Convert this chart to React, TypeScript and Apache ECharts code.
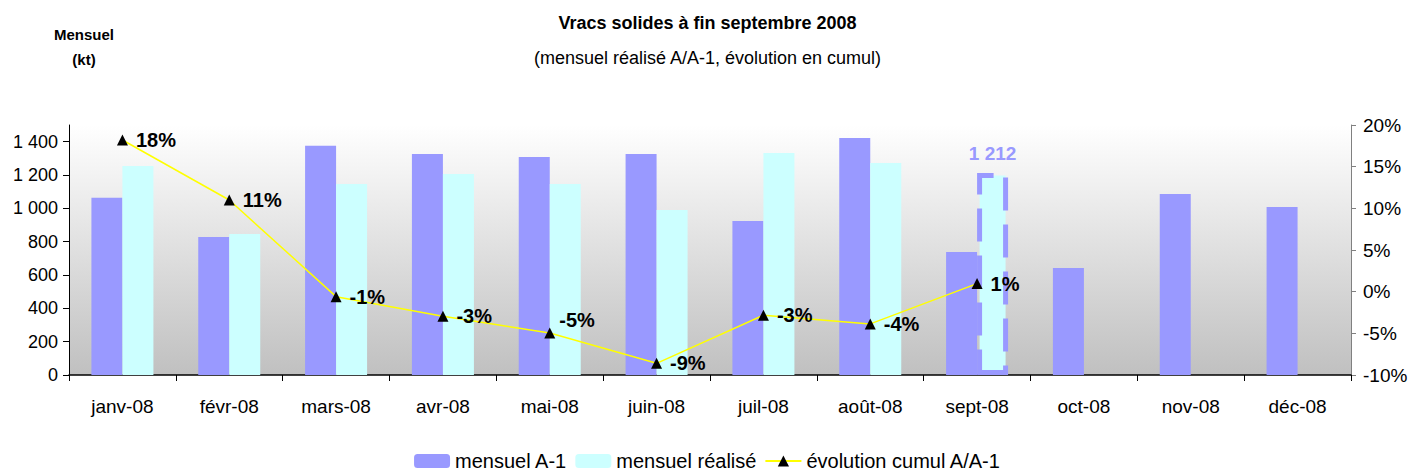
import React, { useEffect, useRef } from "react";
import * as echarts from "echarts";

const categories = ["janv-08", "févr-08", "mars-08", "avr-08", "mai-08", "juin-08", "juil-08", "août-08", "sept-08", "oct-08", "nov-08", "déc-08"];
const mensuelA1 = [1064, 828, 1376, 1326, 1308, 1326, 924, 1422, 738, 642, 1086, 1008];
const mensuelRealise = [1254, 846, 1146, 1206, 1146, 990, 1332, 1272, 1212];
const evolutionCumul = [18.2, 11.0, -0.6, -2.95, -4.96, -8.6, -2.83, -3.87, 0.97];
const leftTicks = [0, 200, 400, 600, 800, 1000, 1200, 1400];

const FONT = "'Liberation Sans', Arial, sans-serif";

function fmtThousands(v: number): string {
  return String(v).replace(/\B(?=(\d{3})+(?!\d))/g, " ");
}

export default function App() {
  const ref = useRef<HTMLDivElement>(null);
  useEffect(() => {
    if (!ref.current) return;
    const chart = echarts.init(ref.current, null, { renderer: "svg" });
    const lastIdx = mensuelRealise.length - 1;
    const realiseData = mensuelRealise.map((v, i) =>
      i === lastIdx
        ? {
            value: v,
            itemStyle: { color: "#ccffff", borderColor: "#9999ff", borderWidth: 5, borderType: [33, 14] },
            label: {
              show: true,
              position: "top",
              distance: 10,
              formatter: fmtThousands(v),
              color: "#9999ff",
              fontWeight: "bold",
              fontSize: 19,
              fontFamily: FONT,
            },
          }
        : v
    );
    const lineData = evolutionCumul.map((v, i) =>
      i === 4 ? { value: v, label: { offset: [-4, -13] } } : v
    );
    chart.setOption({
      animation: false,
      backgroundColor: "#ffffff",
      textStyle: { fontFamily: FONT },
      title: [
        { text: "Vracs solides à fin septembre 2008", left: "center", top: 9, textStyle: { fontSize: 18, fontWeight: "bold", color: "#000", fontFamily: FONT } },
        { text: "(mensuel réalisé A/A-1, évolution en cumul)", left: "center", top: 44, textStyle: { fontSize: 18, fontWeight: "normal", color: "#000", fontFamily: FONT } },
      ],
      graphic: [
        { type: "text", x: 84, y: 27, style: { text: "Mensuel", textAlign: "center", fill: "#000", font: `bold 15px ${FONT}` } },
        { type: "text", x: 84, y: 52, style: { text: "(kt)", textAlign: "center", fill: "#000", font: `bold 15px ${FONT}` } },
      ],
      legend: {
        left: "center",
        top: 451,
        padding: 0,
        itemWidth: 36,
        itemHeight: 14,
        itemGap: 8,
        textStyle: { fontSize: 20, color: "#000", fontFamily: FONT, padding: [0, 0, 0, 0] },
        data: ["mensuel A-1", "mensuel réalisé", "évolution cumul A/A-1"],
      },
      grid: {
        left: 69,
        right: 64,
        top: 125,
        bottom: 97,
        show: true,
        borderWidth: 0,
        backgroundColor: new echarts.graphic.LinearGradient(0, 0, 0, 1, [
          { offset: 0, color: "#ffffff" },
          { offset: 1, color: "#c0c0c0" },
        ]),
      },
      xAxis: {
        type: "category",
        data: categories,
        axisLine: { lineStyle: { color: "#000", width: 1.5 } },
        axisTick: { show: true, length: 6, lineStyle: { color: "#000" } },
        axisLabel: { fontSize: 19, color: "#000", margin: 22, fontFamily: FONT },
      },
      yAxis: [
        {
          type: "value",
          min: 0,
          max: 1500,
          interval: 100,
          splitLine: { show: false },
          axisLine: { show: true, lineStyle: { color: "#000" } },
          axisTick: { show: true, length: 6, lineStyle: { color: "#000" }, customValues: leftTicks },
          axisLabel: {
            fontSize: 18,
            color: "#000",
            margin: 11,
            fontFamily: FONT,
            customValues: leftTicks,
            formatter: (v: number) => (leftTicks.indexOf(v) >= 0 ? fmtThousands(v) : ""),
          },
        },
        {
          type: "value",
          min: -10,
          max: 20,
          interval: 5,
          position: "right",
          splitLine: { show: false },
          axisLine: { show: true, lineStyle: { color: "#808080" } },
          axisTick: { show: true, length: 5, lineStyle: { color: "#808080" } },
          axisLabel: { fontSize: 19, color: "#000", margin: 12, fontFamily: FONT, formatter: (v: number) => `${v}%` },
        },
      ],
      series: [
        {
          name: "mensuel A-1",
          type: "bar",
          data: mensuelA1,
          barWidth: 31,
          barGap: "0%",
          itemStyle: { color: "#9999ff" },
        },
        {
          name: "mensuel réalisé",
          type: "bar",
          data: realiseData,
          barWidth: 31,
          barGap: "0%",
          itemStyle: { color: "#ccffff" },
        },
        {
          name: "évolution cumul A/A-1",
          type: "line",
          yAxisIndex: 1,
          data: lineData,
          symbol: "triangle",
          symbolSize: 11,
          lineStyle: { color: "#ffff00", width: 1.5 },
          itemStyle: { color: "#000" },
          z: 5,
          label: {
            show: true,
            position: "right",
            distance: 8,
            fontSize: 20,
            fontWeight: "bold",
            color: "#000",
            fontFamily: FONT,
            formatter: (p: any) => `${Math.round(p.value)}%`,
          },
        },
      ],
    });
    return () => chart.dispose();
  }, []);
  return <div ref={ref} style={{ position: "fixed", left: 0, top: 0, width: 1415, height: 472 }} />;
}
